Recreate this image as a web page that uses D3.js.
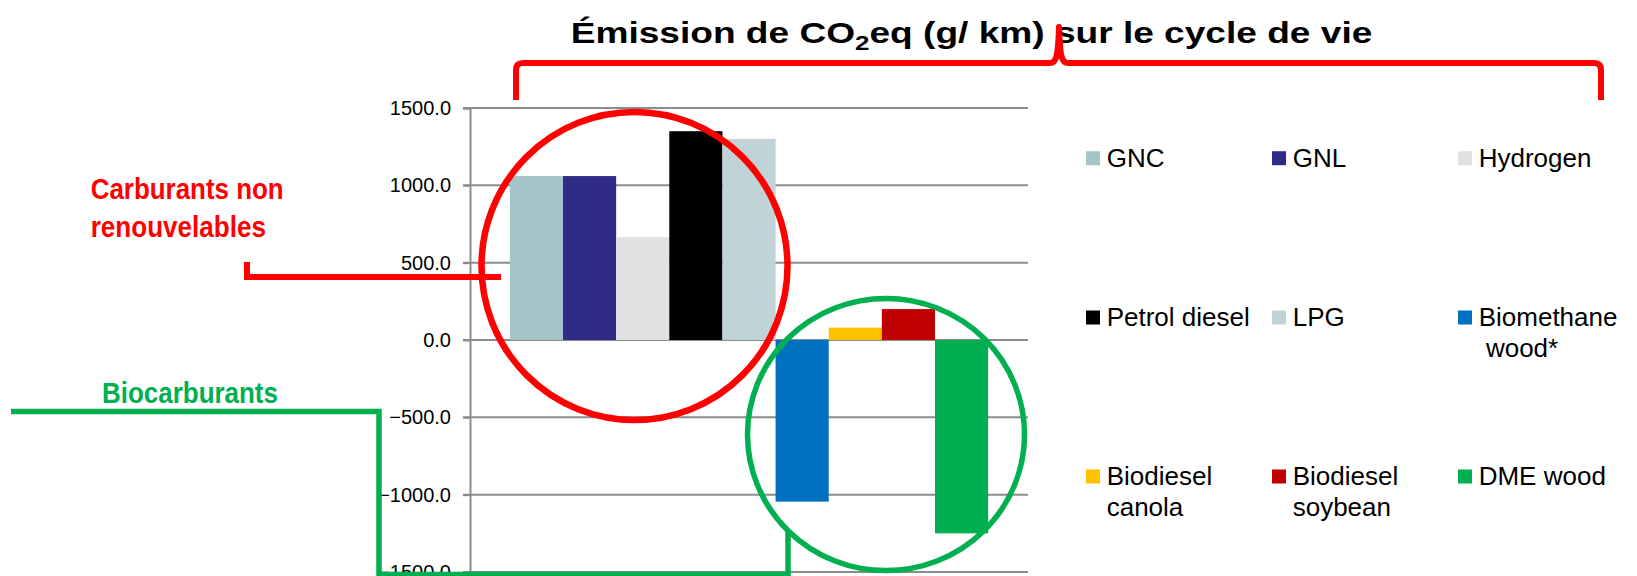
<!DOCTYPE html>
<html>
<head>
<meta charset="utf-8">
<script src="https://cdn.jsdelivr.net/npm/d3@7/dist/d3.min.js"></script>
<style>
  html, body { margin: 0; padding: 0; background: #fff; }
  svg { display: block; font-family: "Liberation Sans", Arial, sans-serif; }
</style>
</head>
<body>
<svg id="chart" width="1637" height="576"></svg>
<script>
// Life-cycle CO2eq emissions (g/km) per fuel
const series = ["GNC", "GNL", "Hydrogen", "Petrol diesel", "LPG",
                "Biomethane wood*", "Biodiesel canola", "Biodiesel soybean", "DME wood"];
const values = [1060, 1060, 665, 1350, 1300, -1045, 80, 200, -1250];
const colors = ["#A6C5C9", "#2E2C86", "#E1E1E1", "#000000", "#C0D3D6",
                "#0070C0", "#FFC000", "#C00000", "#00B050"];
const legendLines = [["GNC"], ["GNL"], ["Hydrogen"], ["Petrol diesel"], ["LPG"],
                     ["Biomethane", " wood*"], ["Biodiesel", "canola"], ["Biodiesel", "soybean"], ["DME wood"]];
const yTicks = [-1500, -1000, -500, 0, 500, 1000, 1500];
const yDomain = [-1500, 1500];

const titleMain = "Émission de CO";
const titleSub = "2";
const titleRest = "eq (g/ km) sur le cycle de vie";
const labelFossil = ["Carburants non", "renouvelables"];
const labelBio = "Biocarburants";

const svg = d3.select("#chart");

// plot frame
const plot = { left: 470, right: 1028, top: 108, bottom: 572 };
const y = d3.scaleLinear().domain(yDomain).range([plot.bottom, plot.top]);

// one category holding nine series, with Excel-like gap on both sides
const barW = (plot.right - plot.left) / (series.length + 1.5);
const x = d3.scaleBand()
  .domain(series)
  .range([plot.left + barW * 0.75, plot.right - barW * 0.75])
  .padding(0);

// gridlines + tick marks
const grid = svg.append("g").attr("class", "grid");
grid.selectAll("line")
  .data(yTicks)
  .join("line")
  .attr("x1", plot.left - 7)
  .attr("x2", plot.right)
  .attr("y1", d => y(d))
  .attr("y2", d => y(d))
  .attr("stroke", "#8c8c8c")
  .attr("stroke-width", 2);

// vertical axis with labels
const yAxis = d3.axisLeft(y)
  .tickValues(yTicks)
  .tickFormat(d3.format(".1f"))
  .tickSize(7)
  .tickPadding(12);
const ax = svg.append("g")
  .attr("transform", `translate(${plot.left},0)`)
  .call(yAxis);
ax.select(".domain").attr("stroke", "#8c8c8c").attr("stroke-width", 2);
ax.selectAll(".tick line").attr("stroke", "#8c8c8c").attr("stroke-width", 2);
ax.selectAll(".tick text")
  .attr("fill", "#000")
  .style("font-size", "20px")
  .style("font-family", "'Liberation Sans', Arial, sans-serif");

// bars
svg.append("g").selectAll("rect")
  .data(series.map((s, i) => ({ s, v: values[i], c: colors[i] })))
  .join("rect")
  .attr("x", d => x(d.s))
  .attr("width", x.bandwidth())
  .attr("y", d => y(Math.max(0, d.v)))
  .attr("height", d => Math.abs(y(d.v) - y(0)))
  .attr("fill", d => d.c);

// legend: 3 columns x 3 rows
const legCols = [1086, 1272, 1458];
const legRows = [166.7, 326, 485];
const leg = svg.append("g").selectAll("g")
  .data(series.map((s, i) => ({ i, c: colors[i], lines: legendLines[i] })))
  .join("g")
  .attr("transform", d => `translate(${legCols[d.i % 3]},${legRows[Math.floor(d.i / 3)]})`);
leg.append("rect")
  .attr("x", 0).attr("y", -15.5)
  .attr("width", 14).attr("height", 14)
  .attr("fill", d => d.c);
leg.append("text")
  .attr("x", 20.7)
  .style("font-size", "26px")
  .style("white-space", "pre")
  .attr("fill", "#000")
  .selectAll("tspan")
  .data(d => d.lines)
  .join("tspan")
  .attr("x", 20.7)
  .attr("dy", (d, j) => j === 0 ? 0 : 30.5)
  .text(d => d);

// stretch a text element horizontally to a given width
function placeText(t, x0, baseline, width) {
  const w = t.node().getComputedTextLength();
  t.attr("transform", `translate(${x0},${baseline}) scale(${width / w},1)`);
}

// title
const title = svg.append("text")
  .attr("x", 0).attr("y", 0)
  .style("font-size", "30px")
  .style("font-weight", "bold")
  .attr("fill", "#000");
title.append("tspan").text(titleMain);
title.append("tspan").text(titleSub).style("font-size", "21px").attr("dy", 7);
title.append("tspan").text(titleRest).attr("dy", -7);
placeText(title, 570.7, 43.3, 802);

// curly bracket under the title
const br = d3.path();
br.moveTo(516, 100);
br.lineTo(516, 70);
br.quadraticCurveTo(516, 63, 523, 63);
br.lineTo(1050, 63);
br.bezierCurveTo(1056, 63, 1058, 58, 1059, 27);
br.bezierCurveTo(1060, 58, 1062, 63, 1068, 63);
br.lineTo(1594, 63);
br.quadraticCurveTo(1601, 63, 1601, 70);
br.lineTo(1601, 100);
svg.append("path")
  .attr("d", br.toString())
  .attr("fill", "none")
  .attr("stroke", "#FF0000")
  .attr("stroke-width", 6)
  .attr("stroke-linejoin", "round");

// fossil fuels callout
const redPath = d3.path();
redPath.moveTo(247, 262);
redPath.lineTo(247, 277);
redPath.lineTo(501, 277);
svg.append("path")
  .attr("d", redPath.toString())
  .attr("fill", "none")
  .attr("stroke", "#FF0000")
  .attr("stroke-width", 6);
svg.append("ellipse")
  .attr("cx", 634.5).attr("cy", 266)
  .attr("rx", 153).attr("ry", 154)
  .attr("fill", "none")
  .attr("stroke", "#FF0000")
  .attr("stroke-width", 6.5);
[[labelFossil[0], 199.3, 193], [labelFossil[1], 237.3, 175.3]].forEach(([txt, b, w]) => {
  const t = svg.append("text")
    .style("font-size", "29px")
    .style("font-weight", "bold")
    .attr("fill", "#FF0000")
    .text(txt);
  placeText(t, 90.7, b, w);
});

// biofuels callout
const greenPath = d3.path();
greenPath.moveTo(11, 411.5);
greenPath.lineTo(379, 411.5);
greenPath.lineTo(379, 574.5);
greenPath.lineTo(788, 574.5);
greenPath.lineTo(788, 532);
svg.append("path")
  .attr("d", greenPath.toString())
  .attr("fill", "none")
  .attr("stroke", "#00B050")
  .attr("stroke-width", 5.5);
svg.append("ellipse")
  .attr("cx", 886).attr("cy", 434.5)
  .attr("rx", 138.5).attr("ry", 136)
  .attr("fill", "none")
  .attr("stroke", "#00B050")
  .attr("stroke-width", 5.5);
const bio = svg.append("text")
  .style("font-size", "29px")
  .style("font-weight", "bold")
  .attr("fill", "#00B050")
  .text(labelBio);
placeText(bio, 102, 403.3, 176);
</script>
</body>
</html>
